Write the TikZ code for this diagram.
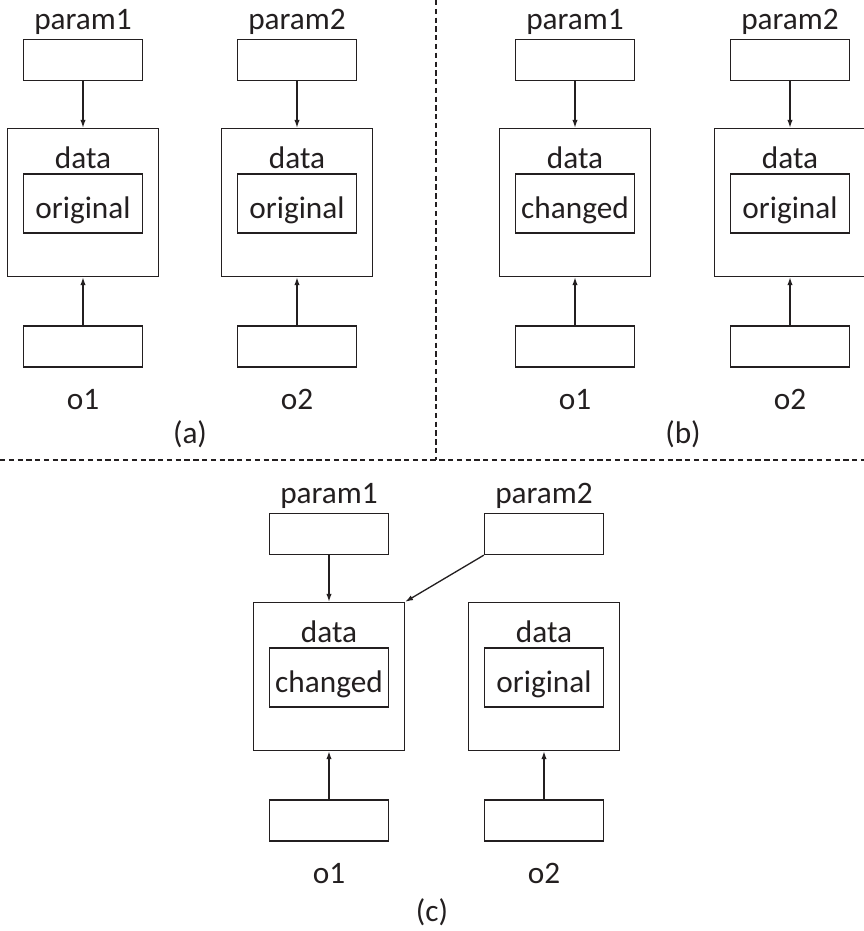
\documentclass[tikz,border=0pt]{standalone}
\usepackage{fontspec}
\setmainfont{Carlito}
\usetikzlibrary{arrows.meta,positioning}
\definecolor{inkgrey}{HTML}{231F20}

\tikzset{
  pbox/.style={draw=inkgrey, line width=0.75pt, minimum width=2.38cm, minimum height=0.82cm, inner sep=0pt},
  obox/.style={draw=inkgrey, line width=0.75pt, minimum width=3.02cm, minimum height=2.96cm, inner sep=0pt},
  ibox/.style={draw=inkgrey, line width=0.75pt, minimum width=2.38cm, minimum height=1.18cm, inner sep=0pt},
  lbl/.style={anchor=base, inner sep=0pt, text=inkgrey, font=\fontsize{17.8}{21}\selectfont},
  conn/.style={draw=inkgrey, line width=0.75pt, -{Latex[length=4.5pt,width=3pt]}},
  sep/.style={draw=inkgrey, line width=0.6pt, dash pattern=on 3pt off 2pt}
}

% one object column: #1 name, #2 x, #3 y shift, #4 param, #5 value, #6 object
\newcommand{\objcol}[6]{%
  \node[lbl] (#1pl) at (#2,29+#3) {#4};
  \node[pbox] (#1p) at (#2,60+#3) {};
  \node[obox] (#1o) at (#2,202.5+#3) {};
  \node[lbl] (#1d) at (#2,168+#3) {data};
  \node[ibox] (#1i) at (#2,203.5+#3) {};
  \node[lbl] (#1v) at (#2,218+#3) {#5};
  \node[pbox] (#1r) at (#2,346.5+#3) {};
  \node[lbl] (#1l) at (#2,409+#3) {#6};
  \draw[conn] (#1r) -- (#1o);
}

\begin{document}
\begin{tikzpicture}[x=0.02cm, y=-0.02cm]
\useasboundingbox (0,0) rectangle (864,931);

% separators
\draw[sep] (436,0) -- (436,460);
\draw[sep] (0,460) -- (864,460);

% (a)
\objcol{a1}{83}{0}{param1}{original}{o1}
\objcol{a2}{297}{0}{param2}{original}{o2}
\draw[conn] (a1p) -- (a1o);
\draw[conn] (a2p) -- (a2o);
\node[lbl] (capa) at (190,443) {(a)};

% (b)
\objcol{b1}{575}{0}{param1}{changed}{o1}
\objcol{b2}{790}{0}{param2}{original}{o2}
\draw[conn] (b1p) -- (b1o);
\draw[conn] (b2p) -- (b2o);
\node[lbl] (capb) at (683,443) {(b)};

% (c)
\objcol{c1}{329}{474}{param1}{changed}{o1}
\objcol{c2}{544}{474}{param2}{original}{o2}
\draw[conn] (c1p) -- (c1o);
\draw[conn] (c2p.south west) -- (c1o.north east);
\node[lbl] (capc) at (432,921) {(c)};
\end{tikzpicture}
\end{document}
